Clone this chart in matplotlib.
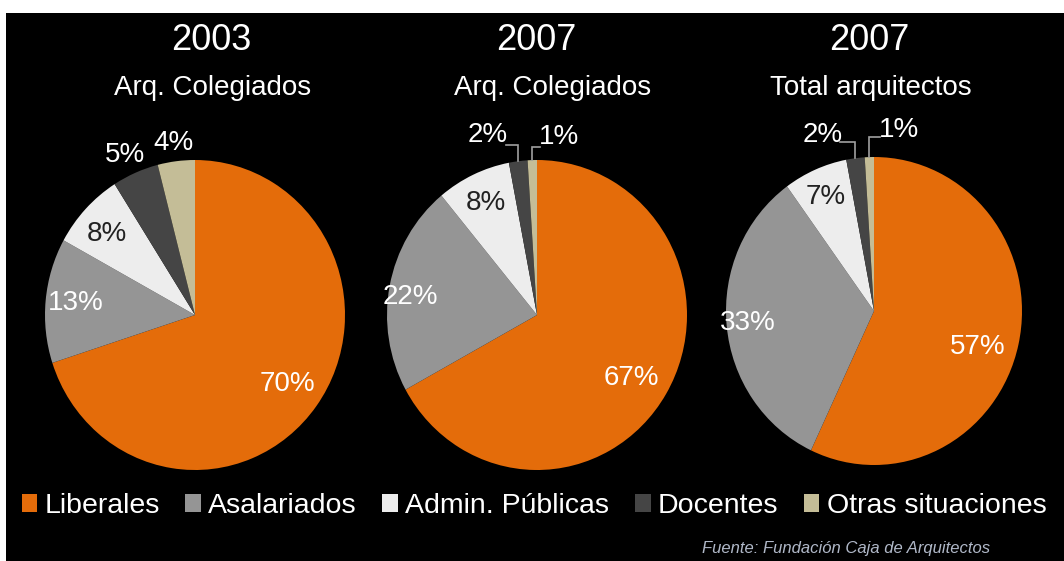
import matplotlib
matplotlib.use("Agg")
import matplotlib.pyplot as plt
from matplotlib import font_manager
from matplotlib.patches import Rectangle, Patch
import numpy as np

# ---- data ----
categories = ["Liberales", "Asalariados", "Admin. Públicas", "Docentes", "Otras situaciones"]
years = ["2003", "2007", "2007"]
subtitles = ["Arq. Colegiados", "Arq. Colegiados", "Total arquitectos"]
values_2003_col = [70, 13, 8, 5, 4]
values_2007_col = [67, 22, 8, 2, 1]
values_2007_tot = [57, 33, 7, 2, 1]
source = "Fuente: Fundación Caja de Arquitectos"

colors = ["#E46C0A", "#959595", "#EDEDED", "#454545", "#C4BD97"]
label_colors = ["white", "white", "#222222", "white", "white"]

# font choice
fam = "Liberation Sans"
try:
    font_manager.findfont("Liberation Sans Narrow", fallback_to_default=False)
    fam = "Liberation Sans Narrow"
except Exception:
    pass
plt.rcParams["font.family"] = [fam, "DejaVu Sans"]

W, H = 1064, 561
fig = plt.figure(figsize=(W / 100, H / 100), dpi=100, facecolor="white")
# black panel
fig.patches.append(Rectangle((6 / W, 0), (W - 6) / W, (H - 13) / H,
                             transform=fig.transFigure, facecolor="black",
                             edgecolor="none", zorder=-10))

# pie geometry (pixel, top origin): cx, cy, rx, ry
geoms = [(195, 315, 150, 155), (537, 315, 150, 155), (874, 311, 148, 154)]
title_x = [211, 536, 869]
sub_x = [213, 553, 871]
all_vals = [values_2003_col, values_2007_col, values_2007_tot]

# label styles per pie: distance per slice, extra angle offset
dists = [[0.76, 0.80, 0.79, 1.13, 1.12],
         [0.75, 0.85, 0.80, None, None],
         [0.74, 0.855, 0.81, None, None]]
ang_off = [[0, 0, 1.5, 1, 0],
           [-2, 3, 0, 0, 0],
           [-6, 0, 0.5, 0, 0]]
# leader-line labels for tiny slices: (text x, text y, elbow y, elbow x end)
leaders = [None,
           {3: (-0.33, 1.16, 1.10, -0.21), 4: (0.147, 1.15, 1.085, 0.02)},
           {3: (-0.35, 1.14, 1.097, -0.23), 4: (0.17, 1.175, 1.13, 0.04)}]

FS_LBL = 20
for i, (vals, (cx, cy, rx, ry)) in enumerate(zip(all_vals, geoms)):
    ax = fig.add_axes([(cx - rx) / W, (H - (cy + ry)) / H, 2 * rx / W, 2 * ry / H])
    ax.set_facecolor("none")
    wedges, _ = ax.pie(vals, colors=colors, startangle=90, counterclock=False,
                       radius=1.0, wedgeprops=dict(linewidth=0))
    ax.set_aspect("auto")
    ax.set_xlim(-1, 1)
    ax.set_ylim(-1, 1)
    ax.axis("off")
    total = float(sum(vals))
    cum = 0.0
    for j, v in enumerate(vals):
        mid = 90 - 360 * (cum + v / 2) / total
        cum += v
        txt = f"{v}%"
        if leaders[i] is not None and j in leaders[i]:
            tx, ty, ey, ex = leaders[i][j]
            px, py = np.cos(np.radians(mid)), np.sin(np.radians(mid))
            ax.plot([px, px, ex], [py, ey, ey], color="#a0a0a0", lw=1.2,
                    clip_on=False, solid_joinstyle="miter")
            ax.text(tx, ty, txt, ha="center", va="center", color="white",
                    fontsize=FS_LBL, clip_on=False)
        else:
            a = np.radians(mid + ang_off[i][j])
            d = dists[i][j]
            col = label_colors[j] if d < 1 else "white"
            ax.text(d * np.cos(a), d * np.sin(a), txt, ha="center", va="center",
                    color=col, fontsize=FS_LBL, clip_on=False)

    fig.text(title_x[i] / W, 1 - 40 / H, years[i], ha="center", va="center",
             color="white", fontsize=26)
    fig.text(sub_x[i] / W, 1 - 88 / H, subtitles[i], ha="center", va="center",
             color="white", fontsize=20)

handles = [Patch(facecolor=c, edgecolor="none") for c in colors]
leg = fig.legend(handles, categories, loc="center", bbox_to_anchor=(534 / W, 1 - 506 / H),
                 ncol=5, frameon=False, fontsize=20.5, handlelength=0.55,
                 handleheight=0.55, handletextpad=0.25, columnspacing=0.9,
                 borderpad=0, borderaxespad=0)
for t in leg.get_texts():
    t.set_color("white")

fig.text(990 / W, 1 - 549 / H, source, ha="right", va="center", color="#B0B8C8",
         fontsize=12, style="italic")

fig.savefig("out.png", dpi=100, facecolor="white")
